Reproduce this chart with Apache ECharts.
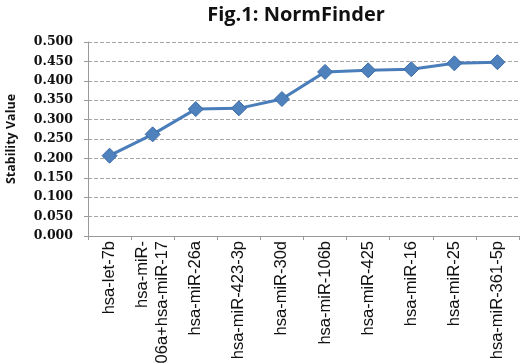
<!DOCTYPE html>
<html><head><meta charset="utf-8">
<script src="https://cdn.jsdelivr.net/npm/echarts@6/dist/echarts.min.js"></script>
<style>html,body{margin:0;padding:0;background:#fff}#c{width:520px;height:363px}</style>
</head><body><div id="c"></div>
<script>
const categories = ["hsa-let-7b","hsa-miR-\n106a+hsa-miR-17","hsa-miR-26a","hsa-miR-423-3p","hsa-miR-30d","hsa-miR-106b","hsa-miR-425","hsa-miR-16","hsa-miR-25","hsa-miR-361-5p"];
const stability = [0.207,0.262,0.327,0.329,0.353,0.423,0.427,0.430,0.445,0.448];
const yTicks = [0,0.05,0.1,0.15,0.2,0.25,0.3,0.35,0.4,0.45,0.5];

const chart = echarts.init(document.getElementById('c'));
chart.setOption({
  animation:false,
  title:{text:'Fig.1: NormFinder',left:291,top:0,textAlign:'center',
    textStyle:{fontFamily:'Open Sans',fontWeight:'bold',fontSize:20,color:'#111'}},
  grid:{left:88,right:1,top:42,bottom:127,containLabel:false,outerBoundsMode:'none'},
  xAxis:{type:'category',data:categories,boundaryGap:true,
    axisLine:{lineStyle:{color:'#999',width:1}},
    axisTick:{show:true,alignWithLabel:false,length:4,lineStyle:{color:'#999'}},
    axisLabel:{rotate:90,margin:5,fontFamily:'Liberation Sans Narrow, Liberation Sans',fontSize:16.5,color:'#111',lineHeight:20,interval:0,hideOverlap:false}},
  yAxis:{type:'value',min:0,max:0.5,interval:0.05,
    name:'Stability Value',nameLocation:'middle',nameGap:70,nameRotate:90,
    nameTextStyle:{fontFamily:'Open Sans',fontWeight:'bold',fontSize:12.5,color:'#111'},
    axisLine:{show:true,lineStyle:{color:'#999'}},
    axisTick:{show:true,length:4,lineStyle:{color:'#999'}},
    splitLine:{show:true,lineStyle:{color:'#a6a6a6',type:'dashed',width:1}},
    axisLabel:{formatter:v=>v.toFixed(3),fontFamily:'DejaVu Serif',fontWeight:'bold',fontSize:12.5,color:'#111',margin:15}},
  series:[{type:'line',data:stability,symbol:'diamond',symbolSize:15,
    lineStyle:{color:'#4a7ebb',width:3},
    itemStyle:{color:'#4f81bd',borderColor:'#3a6aa8',borderWidth:1}}]
});
</script></body></html>
